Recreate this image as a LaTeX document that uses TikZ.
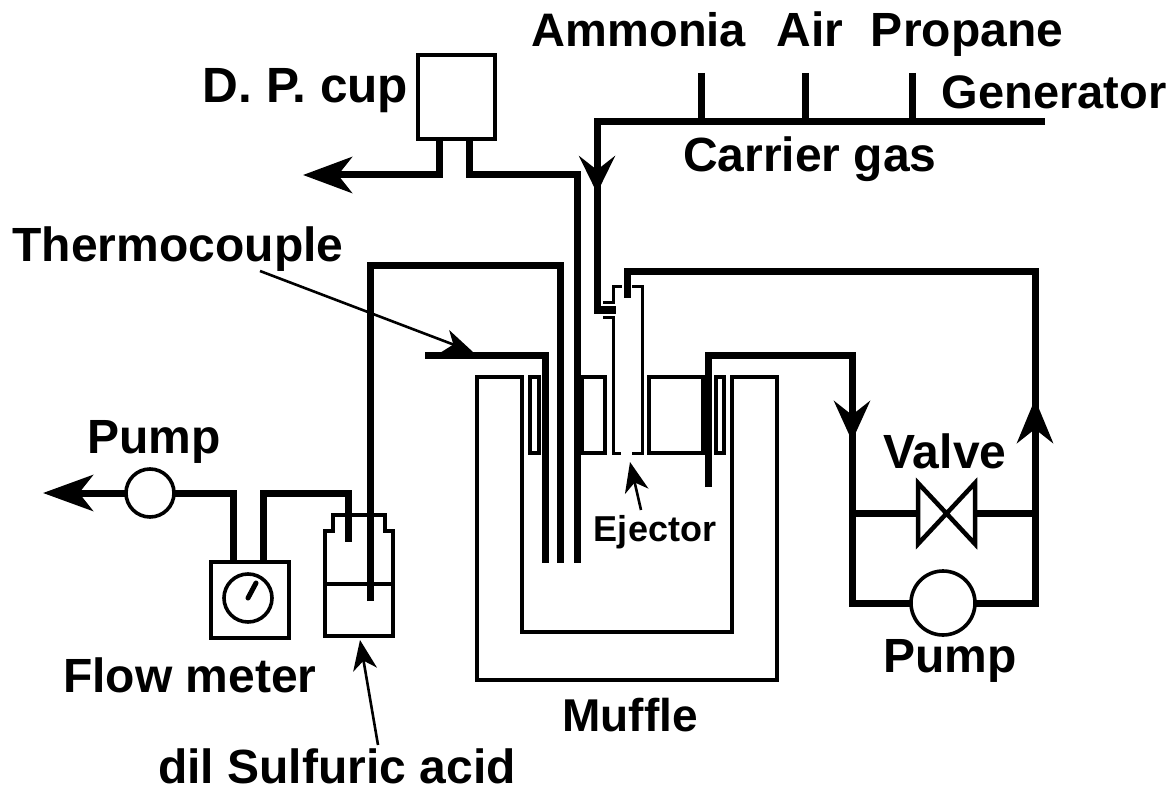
\documentclass[tikz,border=0pt]{standalone}
\usepackage{fontspec}
\setmainfont{Liberation Sans}
\usetikzlibrary{arrows.meta}
\begin{document}
\begin{tikzpicture}[x=1pt,y=-1pt,
  pipe/.style={line width=7pt,line join=miter,line cap=butt},
  wall/.style={line width=3.6pt,line join=miter},
  thin wall/.style={line width=3pt,line join=miter},
  flow/.style={line width=7pt,-{Stealth[length=#1pt,width=36pt,inset=14pt]}},
  leader/.style={line width=2.6pt,-{Stealth[length=30pt,width=24pt,inset=9pt]}},
  lbl/.style={inner sep=0pt,anchor=base,font=\fontsize{#1}{#1}\selectfont\bfseries},
  lbl/.default=48,
  round part/.style={circle,draw,line width=3.6pt,fill=white,inner sep=0pt}]
\useasboundingbox (0,0) rectangle (1174,791);
% muffle
\draw[wall] (522,377) -- (477,377) -- (477,680) -- (777,680) -- (777,377) -- (732,377) -- (732,632) -- (522,632) -- cycle;
\draw[wall] (582,377) rectangle (605,453);
\draw[wall] (649,377) rectangle (703,453);
\draw[line width=4.5pt] (530,377) rectangle (539,453);
\draw[line width=4.5pt] (716,377) rectangle (724,453);
% nodes
\node[draw,wall,minimum width=77pt,minimum height=84pt,anchor=north west,inner sep=0pt] (cup) at (416,53) {};
\node[draw,wall,minimum width=78pt,minimum height=76pt,anchor=north west,inner sep=0pt] (meter) at (209,560) {};
\node[round part,minimum size=48pt] (gauge) at (248,598) {};
\coordinate (needle) at (256,583);
\draw[line width=5pt,line cap=round] (gauge.center) -- (needle);
% bottle
\draw[wall] (325,636) -- (325,531) -- (333,531) -- (333,515) -- (385,515) -- (385,531) -- (393,531) -- (393,636) -- cycle;
\draw[wall] (325,584) -- (393,584);
% valve
\coordinate (valvec) at (947,513);
\draw[line width=4.5pt,line join=miter] (918,483) -- (975,544) -- (975,483) -- (918,544) -- cycle;
% gas lines
\coordinate (gen) at (1045,122);
\draw[pipe] (gen) -- (597,122) -- (597,310) -- (616,310);
\draw[flow=37] (597,150) -- (597,193);
\draw[pipe] (701,73) -- (701,122);
\draw[pipe] (805,73) -- (805,122);
\draw[pipe] (912,73) -- (912,122);
% D.P. cup lines
\draw[pipe] (439,137) -- (439,175) -- (340,175);
\draw[flow=49] (360,175) -- (303,175);
\draw[pipe] (469,137) -- (469,175) -- (577,175) -- (577,563);
% three tubes
\draw[pipe] (370,601) -- (370,266) -- (560,266) -- (560,563);
\draw[pipe] (425,355) -- (545,355) -- (545,563);
% ejector
\draw[thin wall] (603,303) -- (613,303) -- (613,287) -- (622,287);
\draw[thin wall] (603,317) -- (613,317) -- (613,453) -- (621,453);
\draw[thin wall] (632,287) -- (642,287) -- (642,453) -- (632,453);
% pumps, drawn over their pipes
\draw[pipe] (627,298) -- (627,272) -- (1035,272) -- (1035,603) -- (943,603);
\draw[pipe] (708,487) -- (708,355) -- (852,355) -- (852,603) -- (943,603);
\node[round part,minimum size=64pt] (rpump) at (943,603) {};
\draw[flow=40] (852,395) -- (852,441);
\draw[flow=44] (1035,450) -- (1035,399);
\draw[pipe] (852,513) -- (918,513);
\draw[pipe] (975,513) -- (1035,513);
% pump & meter lines
\draw[pipe] (233,560) -- (233,493) -- (150,493);
\draw[flow=50] (150,493) -- (43,493);
\node[round part,minimum size=48pt] (lpump) at (150,493) {};
\draw[pipe] (263,560) -- (263,493) -- (348,493) -- (348,542);
% labels
\node[lbl=49.5] (tcup) at (305.5,103) {D. P. cup};
\node[lbl=47] (tam) at (639,47) {Ammonia};
\node[lbl] (tair) at (810,47) {Air};
\node[lbl] (tpro) at (967,47) {Propane};
\node[lbl=47] (tgen) at (1054,109) {Generator};
\node[lbl] (tcar) at (810,172) {Carrier gas};
\node[lbl] (tthe) at (178,262) {Thermocouple};
\node[lbl] (tlp) at (154,453) {Pump};
\node[lbl] (tval) at (945,468) {Valve};
\node[lbl] (trp) at (950,672) {Pump};
\node[lbl] (tfm) at (190,692) {Flow meter};
\node[lbl=46] (tmuf) at (630,731) {Muffle};
\node[lbl] (tsul) at (337,783) {dil Sulfuric acid};
\node[lbl=36] (tej) at (655,541) {Ejector};
% leaders
\coordinate (a) at (260,271);
\coordinate (ta) at (473,352);
\draw[leader] (a) -- (ta);
\coordinate (b) at (641,510);
\coordinate (tb) at (630,462);
\draw[leader] (b) -- (tb);
\coordinate (c) at (378,745);
\coordinate (tc) at (360,640);
\draw[leader] (c) -- (tc);
\end{tikzpicture}
\end{document}
